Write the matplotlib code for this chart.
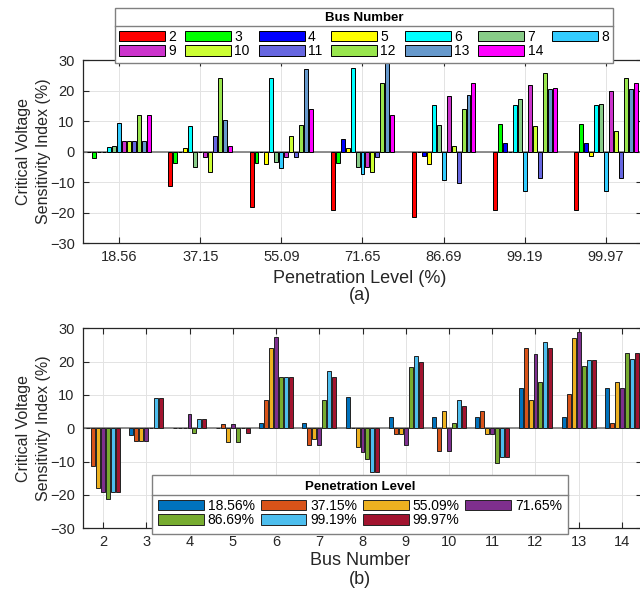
import matplotlib
matplotlib.use('Agg')
import matplotlib.pyplot as plt
import numpy as np
from matplotlib.lines import Line2D

plt.rcParams['font.family'] = ['Liberation Sans', 'DejaVu Sans']

# Penetration levels (%) and bus numbers
levels = ['18.56', '37.15', '55.09', '71.65', '86.69', '99.19', '99.97']
buses = [2, 3, 4, 5, 6, 7, 8, 9, 10, 11, 12, 13, 14]

# CVSI (%) per bus (rows) for each penetration level (columns)
cvsi = [
    [0.0, -11.3, -18.0, -19.0, -21.3, -19.0, -19.0],   # bus 2
    [-2.0, -3.7, -3.7, -3.7, 0.0, 9.0, 9.0],            # bus 3
    [0.0, 0.0, 0.0, 4.2, -1.3, 2.8, 2.8],               # bus 4
    [0.0, 1.3, -4.0, 1.3, -4.0, 0.0, -1.3],             # bus 5
    [1.5, 8.5, 24.0, 27.3, 15.3, 15.3, 15.3],           # bus 6
    [1.7, -5.0, -3.3, -5.0, 8.6, 17.2, 15.5],           # bus 7
    [9.3, 0.0, -5.5, -7.2, -9.2, -13.0, -13.0],         # bus 8
    [3.4, -1.7, -1.7, -5.0, 18.3, 21.7, 20.0],          # bus 9
    [3.4, -6.8, 5.1, -6.8, 1.7, 8.5, 6.8],              # bus 10
    [3.5, 5.2, -1.7, -1.7, -10.3, -8.6, -8.6],          # bus 11
    [12.0, 24.0, 8.6, 22.4, 13.8, 25.8, 24.1],          # bus 12
    [3.4, 10.3, 27.2, 29.0, 18.7, 20.5, 20.5],          # bus 13
    [12.0, 1.7, 13.8, 12.0, 22.5, 20.7, 22.5],          # bus 14
]

bus_colors = ['#FF0000', '#00FF00', '#0000FF', '#FFFF00', '#00FFFF', '#88CC88',
              '#33CCFF', '#CC33CC', '#CCFF33', '#6666E0', '#99E64D', '#6699CC', '#FF00FF']
level_colors = ['#0072BD', '#D95319', '#EDB120', '#7E2F8E', '#77AC30', '#4DBEEE', '#A2142F']

vals = np.array(cvsi)
txt = '#262626'

fig = plt.figure(figsize=(6.4, 5.92), dpi=100)
ax1 = fig.add_axes([83 / 640, 1 - 243.3 / 592, 559 / 640, 183.3 / 592])
ax2 = fig.add_axes([83 / 640, 1 - 528.3 / 592, 559 / 640, 200 / 592])


def style(ax):
    ax.set_ylim(-30, 30)
    ax.set_yticks(np.arange(-30, 31, 10))
    ax.grid(True, color='#e3e3e3', lw=0.7)
    ax.set_axisbelow(True)
    ax.tick_params(direction='in', top=True, right=True, labelsize=10.5,
                   colors=txt, length=4, width=0.8, pad=6)
    ax.tick_params(axis='x', pad=5)
    for s in ax.spines.values():
        s.set_color(txt)
        s.set_linewidth(0.9)
    ax.axhline(0, color='#7a7a7a', lw=1.2, zorder=1.5)
    ax.set_ylabel('Critical Voltage\nSensitivity Index (%)', fontsize=11.5,
                  color=txt, linespacing=1.4)
    ax.yaxis.set_label_coords(-0.058, 0.5)


# (a) grouped by penetration level
x1 = np.arange(1, len(levels) + 1)
gw = 0.8
p1 = gw / len(buses)
h1 = []
for j, bus in enumerate(buses):
    off = (j - (len(buses) - 1) / 2) * p1
    b = ax1.bar(x1 + off, vals[j], width=p1 * 0.8, color=bus_colors[j],
                edgecolor='black', lw=0.7, label=str(bus), zorder=2)
    h1.append(b)
style(ax1)
ax1.set_xlim(0.552, 7.448)
ax1.set_xticks(x1)
ax1.set_xticklabels(levels)
ax1.set_xlabel('Penetration Level (%)', fontsize=13, color=txt)
ax1.xaxis.set_label_coords(0.4955, -0.145)
fig.text(360 / 640, 1 - 296 / 592, '(a)', fontsize=13, color=txt, ha='center', va='center')

# (b) grouped by bus
x2 = np.array(buses)
p2 = gw / len(levels)
h2 = []
for k, lev in enumerate(levels):
    off = (k - (len(levels) - 1) / 2) * p2
    b = ax2.bar(x2 + off, vals[:, k], width=p2 * 0.8, color=level_colors[k],
                edgecolor='#222222', lw=0.7, label=lev + '%', zorder=2)
    h2.append(b)
style(ax2)
ax2.set_xlim(1.537, 14.463)
ax2.set_xticks(x2)
ax2.set_xlabel('Bus Number', fontsize=13, color=txt)
ax2.xaxis.set_label_coords(0.4955, -0.12)
fig.text(360 / 640, 1 - 579 / 592, '(b)', fontsize=13, color=txt, ha='center', va='center')

# legends (row-wise order)
common = dict(loc='upper left', mode='expand', fontsize=10,
              title_fontproperties={'weight': 'bold', 'size': 9.5},
              handlelength=3.3, handleheight=0.8, handletextpad=0.25,
              labelspacing=0.05, borderaxespad=0, fancybox=False,
              edgecolor='#808080', framealpha=1)

ord1 = [0, 7, 1, 8, 2, 9, 3, 10, 4, 11, 5, 12, 6]
leg1 = fig.legend([h1[i] for i in ord1], [str(buses[i]) for i in ord1],
                  bbox_to_anchor=(115 / 640, 0.8, 498 / 640, 1 - 8 / 592 - 0.8),
                  ncol=7, title='Bus Number', borderpad=0.3, **common)

ord2 = [0, 4, 1, 5, 2, 6, 3]
leg2 = fig.legend([h2[i] for i in ord2], [levels[i] + '%' for i in ord2],
                  bbox_to_anchor=(152 / 640, 0.0, 416 / 640, 1 - 475 / 592),
                  ncol=4, title='Penetration Level', borderpad=0.45, **common)

for leg in (leg1, leg2):
    leg.get_frame().set_linewidth(1.0)
    leg._legend_box.sep = 4

# separator line under each legend title
fig.canvas.draw()
inv = fig.transFigure.inverted()
for leg in (leg1, leg2):
    fb = leg.get_frame().get_window_extent()
    tb = leg.get_title().get_window_extent()
    y = tb.y0 - 1.5
    (x0, yy), (x1_, _) = inv.transform([(fb.x0, y), (fb.x1, y)])
    fig.add_artist(Line2D([x0, x1_], [yy, yy], color='#808080', lw=1.0, zorder=10))

fig.savefig('out.png', dpi=100)
